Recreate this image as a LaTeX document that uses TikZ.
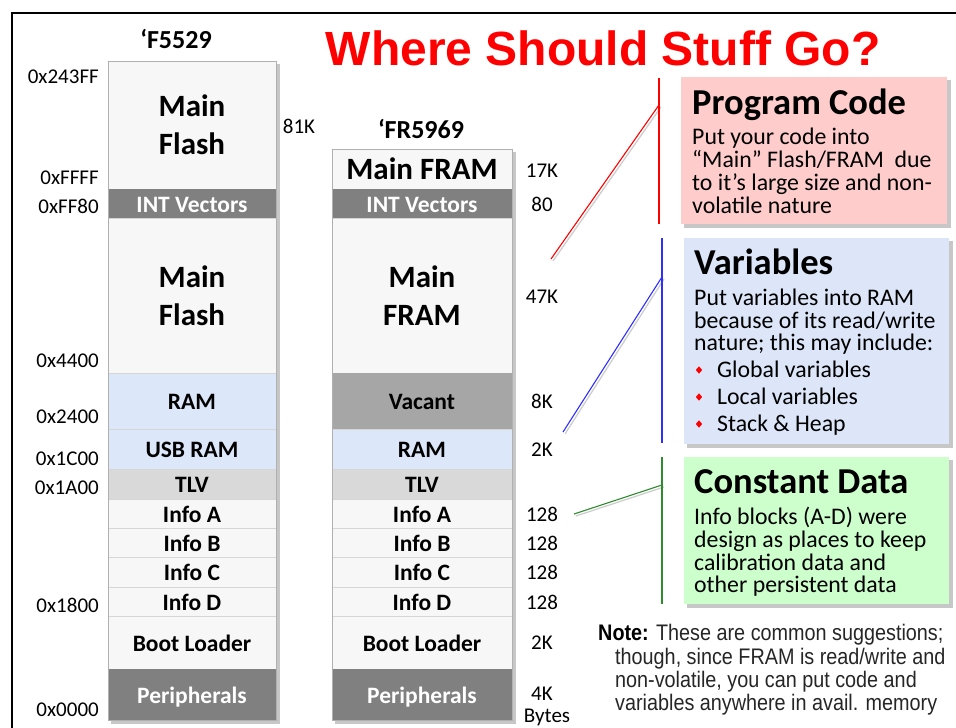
\documentclass[tikz,border=0pt]{standalone}
\usepackage{fontspec}
\setmainfont{Carlito}
\newfontfamily\arialfont{Liberation Sans}
\newfontfamily\narrowfont[FakeStretch=0.88]{Liberation Sans}
\usetikzlibrary{shapes.geometric}
\definecolor{segfill}{HTML}{F7F7F7}
\definecolor{segline}{HTML}{D6D6D6}
\definecolor{colborder}{HTML}{B0B0B0}
\definecolor{intgray}{HTML}{808080}
\definecolor{ramblue}{HTML}{DDE7FA}
\definecolor{tlvgray}{HTML}{D9D9D9}
\definecolor{vacgray}{HTML}{A6A6A6}
\definecolor{pinkbox}{HTML}{FFCCCC}
\definecolor{bluebox}{HTML}{DCE6F8}
\definecolor{greenbox}{HTML}{CCFFCC}
\definecolor{linegreen}{HTML}{2E8B2E}
\definecolor{lineblue}{HTML}{2E2EFF}
\definecolor{notegray}{HTML}{262626}
\newcommand\fsz[2]{\fontsize{#1}{#2}\selectfont}
\begin{document}
\begin{tikzpicture}[x=1pt,y=-1pt,
  seg/.style={draw=segline, line width=0.8pt, fill=segfill, inner sep=0pt, outer sep=0pt,
    anchor=north west, font=\bfseries\fsz{23.5}{27}, text height=17pt, text depth=0pt},
  darkseg/.style={seg, draw=none, text=white},
  bigseg/.style={draw=segline, line width=0.8pt, fill=segfill, inner sep=0pt, outer sep=0pt,
    anchor=north west, font=\bfseries\fsz{31}{38}, align=center},
  addr/.style={font=\fsz{21}{25}, inner sep=0pt, anchor=east, text height=14.5pt, text depth=0pt},
  size/.style={font=\fsz{21}{25}, inner sep=0pt, anchor=center, text height=13.2pt, text depth=0pt},
  coltitle/.style={font=\bfseries\fsz{26}{30}, inner sep=0pt, anchor=center, text height=16.4pt, text depth=0pt},
  infobox/.style={inner sep=0pt, outer sep=0pt, anchor=north west},
  boxtitle/.style={font=\bfseries\fsz{36.5}{40}, inner sep=0pt, anchor=west, text height=23pt, text depth=0pt},
  bodyline/.style={font=\fsz{23.8}{24}, inner sep=0pt, anchor=west, text height=15pt, text depth=0pt},
  noteline/.style={font=\narrowfont\fsz{22.5}{23}, text=notegray, inner sep=0pt, anchor=west, text height=16.1pt, text depth=0pt},
  bulletmark/.style={diamond, fill=red, inner sep=0pt, minimum width=6.5pt, minimum height=7.5pt},
  shadowfill/.style={fill=black, opacity=0.22},
  bar/.style={line width=1.6pt},
  link/.style={line width=1.1pt}
]
\useasboundingbox (0,0) rectangle (956,728);
\fill[white] (0,0) rectangle (956,728);
% slide frame
\draw[line width=2.2pt] (11,13) -- (956,13);
\draw[line width=2.2pt] (12,12) -- (12,728);

% title
\node[font=\arialfont\bfseries\fsz{48}{56}, text=red, inner sep=0pt, anchor=base] (title) at (603,65) {Where Should Stuff Go?};

% ---------- left column 'F5529 ----------
\node[coltitle] (t5529) at (176,40) {‘F5529};
\fill[shadowfill] (111,64) rectangle (280,724);
\node[bigseg, minimum width=168pt, minimum height=128pt] (L1) at (108,61) {Main\\Flash};
\node[darkseg, fill=intgray, minimum width=168pt, minimum height=29pt] (L2) at (108,189) {INT Vectors};
\node[bigseg, minimum width=168pt, minimum height=155pt] (L3) at (108,218) {Main\\Flash};
\node[seg, fill=ramblue, minimum width=168pt, minimum height=56pt] (L4) at (108,373) {RAM};
\node[seg, fill=ramblue, minimum width=168pt, minimum height=40pt] (L5) at (108,429) {USB RAM};
\node[seg, fill=tlvgray, minimum width=168pt, minimum height=30pt] (L6) at (108,469) {TLV};
\node[seg, minimum width=168pt, minimum height=29pt] (L7) at (108,499) {Info A};
\node[seg, minimum width=168pt, minimum height=29pt] (L8) at (108,528) {Info B};
\node[seg, minimum width=168pt, minimum height=30pt] (L9) at (108,557) {Info C};
\node[seg, minimum width=168pt, minimum height=29pt] (L10) at (108,587) {Info D};
\node[seg, minimum width=168pt, minimum height=53pt] (L11) at (108,616) {Boot Loader};
\node[darkseg, fill=intgray, minimum width=168pt, minimum height=51pt] (L12) at (108,669) {Peripherals};
\draw[colborder, line width=0.9pt] (L1.north west) rectangle (L12.south east);

% address labels
\node[addr] (a1) at (99,76) {0x243FF};
\node[addr] (a2) at (99,177) {0xFFFF};
\node[addr] (a3) at (99,206) {0xFF80};
\node[addr] (a4) at (99,360) {0x4400};
\node[addr] (a5) at (99,416) {0x2400};
\node[addr] (a6) at (99,458) {0x1C00};
\node[addr] (a7) at (99,487) {0x1A00};
\node[addr] (a8) at (99,605) {0x1800};
\node[addr] (a9) at (99,709) {0x0000};
\node[size] (s81) at (299,127) {81K};

% ---------- right column 'FR5969 ----------
\node[coltitle] (t5969) at (421,130) {‘FR5969};
\fill[shadowfill] (335,152) rectangle (516,724);
\node[bigseg, minimum width=180pt, minimum height=40pt] (R1) at (332,149) {Main FRAM};
\node[darkseg, fill=intgray, minimum width=180pt, minimum height=29pt] (R2) at (332,189) {INT Vectors};
\node[bigseg, minimum width=180pt, minimum height=155pt] (R3) at (332,218) {Main\\FRAM};
\node[seg, draw=none, fill=vacgray, minimum width=180pt, minimum height=56pt] (R4) at (332,373) {Vacant};
\node[seg, fill=ramblue, minimum width=180pt, minimum height=40pt] (R5) at (332,429) {RAM};
\node[seg, fill=tlvgray, minimum width=180pt, minimum height=30pt] (R6) at (332,469) {TLV};
\node[seg, minimum width=180pt, minimum height=29pt] (R7) at (332,499) {Info A};
\node[seg, minimum width=180pt, minimum height=29pt] (R8) at (332,528) {Info B};
\node[seg, minimum width=180pt, minimum height=30pt] (R9) at (332,557) {Info C};
\node[seg, minimum width=180pt, minimum height=29pt] (R10) at (332,587) {Info D};
\node[seg, minimum width=180pt, minimum height=53pt] (R11) at (332,616) {Boot Loader};
\node[darkseg, fill=intgray, minimum width=180pt, minimum height=51pt] (R12) at (332,669) {Peripherals};
\draw[colborder, line width=0.9pt] (R1.north west) rectangle (R12.south east);

% size labels
\node[size] (z1) at (542,171) {17K};
\node[size] (z2) at (542,205) {80};
\node[size] (z3) at (542,297) {47K};
\node[size] (z4) at (542,402) {8K};
\node[size] (z5) at (542,450) {2K};
\node[size] (z6) at (542,515) {128};
\node[size] (z7) at (542,544) {128};
\node[size] (z8) at (542,573) {128};
\node[size] (z9) at (542,603) {128};
\node[size] (z10) at (542,643) {2K};
\node[size] (z11) at (542,694) {4K};
\node[size] (z12) at (547,716) {Bytes};

% ---------- Program Code box ----------
\fill[shadowfill] (684,80) rectangle (951,228);
\node[infobox, fill=pinkbox, minimum width=266pt, minimum height=147pt] (pc) at (681,77) {};
\node[boxtitle] (pct) at (692,103) {Program Code};
\node[bodyline] (pc1) at (692,137) {Put your code into};
\node[bodyline] (pc2) at (692,160) {“Main” Flash/FRAM\ \ due};
\node[bodyline] (pc3) at (692,183) {to it’s large size and non-};
\node[bodyline] (pc4) at (692,206) {volatile nature};

\coordinate (rtop) at (659,78);
\coordinate (rbot) at (659,224);
\coordinate (rjoin) at (659,105);
\coordinate (rend) at (551,259);
\draw[gray!40, line width=1.2pt] ([shift={(2,2)}]rjoin) -- ([shift={(2,2)}]rend);
\draw[red, bar] (rtop) -- (rbot);
\draw[red, link] (rjoin) -- (rend);

% ---------- Variables box ----------
\fill[shadowfill] (687,241) rectangle (953,448);
\node[infobox, fill=bluebox, minimum width=265pt, minimum height=206pt] (vb) at (684,238) {};
\node[boxtitle] (vbt) at (694,263) {Variables};
\node[bodyline] (vb1) at (694,298) {Put variables into RAM};
\node[bodyline] (vb2) at (694,321) {because of its read/write};
\node[bodyline] (vb3) at (694,343) {nature; this may include:};
\node[bulletmark] (vbb1) at (699,370) {};
\node[bodyline] (vb4) at (717,370) {Global variables};
\node[bulletmark] (vbb2) at (699,397) {};
\node[bodyline] (vb5) at (717,397) {Local variables};
\node[bulletmark] (vbb3) at (699,424) {};
\node[bodyline] (vb6) at (717,424) {Stack \& Heap};

\coordinate (btop) at (662,238);
\coordinate (bbot) at (662,443);
\coordinate (bjoin) at (662,277);
\coordinate (bend) at (563,432);
\draw[gray!40, line width=1.2pt] ([shift={(2,2)}]bjoin) -- ([shift={(2,2)}]bend);
\draw[lineblue, bar] (btop) -- (bbot);
\draw[lineblue, link] (bjoin) -- (bend);

% ---------- Constant Data box ----------
\fill[shadowfill] (687,460) rectangle (953,608);
\node[infobox, fill=greenbox, minimum width=265pt, minimum height=147pt] (cd) at (684,457) {};
\node[boxtitle] (cdt) at (694,482) {Constant Data};
\node[bodyline] (cd1) at (694,517) {Info blocks (A-D) were};
\node[bodyline] (cd2) at (694,540) {design as places to keep};
\node[bodyline] (cd3) at (694,563) {calibration data and};
\node[bodyline] (cd4) at (694,585) {other persistent data};

\coordinate (gtop) at (662,457);
\coordinate (gbot) at (662,604);
\coordinate (gjoin) at (662,485);
\coordinate (gend) at (574,514);
\draw[gray!40, line width=1.2pt] ([shift={(2,2)}]gjoin) -- ([shift={(2,2)}]gend);
\draw[linegreen, bar] (gtop) -- (gbot);
\draw[linegreen, link] (gjoin) -- (gend);

% ---------- Note ----------
\node[noteline] (n1) at (598,632) {{\bfseries\color{black}Note:} These are common suggestions;};
\node[noteline] (n2) at (615,656) {though, since FRAM is read/write and};
\node[noteline] (n3) at (615,679) {non-volatile, you can put code and};
\node[noteline] (n4) at (615,702) {variables anywhere in avail. memory};
\end{tikzpicture}
\end{document}
